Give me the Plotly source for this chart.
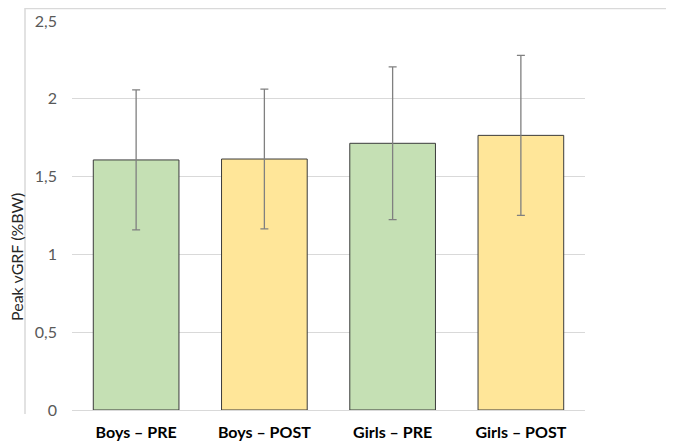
import plotly.graph_objects as go

categories = ["Boys – PRE", "Boys – POST", "Girls – PRE", "Girls – POST"]
values = [1.607, 1.613, 1.714, 1.765]
errors = [0.450, 0.449, 0.491, 0.514]
colors = ["#C5E0B4", "#FFE699", "#C5E0B4", "#FFE699"]
tick_vals = [0, 0.5, 1, 1.5, 2, 2.5]
tick_text = ["0", "0,5", "1", "1,5", "2", "2,5"]

W, H = 674, 441
OFF = 8  # default page body margin shifts the figure by this much
L, T = 72 - OFF, 21 - OFF
R = W - (585 - OFF)
B = H - (410 - OFF)
pw, ph = W - L - R, H - T - B

def px(x):
    return (x - OFF - L) / pw

def py(y):
    return (H - B - (y - OFF)) / ph

FONT = "Lato, Liberation Sans, Arial, sans-serif"

fig = go.Figure(go.Bar(
    x=categories, y=values,
    marker=dict(color=colors, line=dict(color="#3B3B3B", width=1)),
    error_y=dict(type="data", array=errors, visible=True,
                 color="#808080", thickness=1.3, width=4),
))

frame = "#D9D9D9"
fig.update_layout(
    width=W, height=H,
    margin=dict(l=L, r=R, t=T, b=B, pad=0),
    paper_bgcolor="white", plot_bgcolor="white",
    separators=",.",
    bargap=0.332,
    showlegend=False,
    font=dict(family=FONT),
    xaxis=dict(showgrid=False, showline=False, zeroline=False, ticks="",
               automargin=False,
               tickfont=dict(size=16, color="#000000", family=FONT, weight="bold"),
               ticklabelstandoff=11),
    yaxis=dict(range=[0, 2.5], tickvals=tick_vals, ticktext=tick_text,
               automargin=False,
               showgrid=True, gridcolor=frame, gridwidth=1,
               zeroline=True, zerolinecolor=frame, zerolinewidth=1,
               showline=False, ticks="",
               tickfont=dict(size=16, color="#595959", family=FONT),
               ticklabelstandoff=14),
    annotations=[dict(text="Peak vGRF (%BW)", xref="paper", yref="paper",
                      x=px(16), y=py(257), textangle=-90, showarrow=False,
                      xanchor="center", yanchor="middle",
                      font=dict(size=16, color="#262626", family=FONT))],
    shapes=[
        dict(type="line", xref="paper", yref="paper", x0=px(25), x1=px(25),
             y0=py(8), y1=py(414), line=dict(color=frame, width=1.5)),
        dict(type="line", xref="paper", yref="paper", x0=px(672), x1=px(672),
             y0=py(8), y1=py(414), line=dict(color=frame, width=1.5)),
        dict(type="line", xref="paper", yref="paper", x0=px(25), x1=px(672),
             y0=py(8.5), y1=py(8.5), line=dict(color=frame, width=1.5)),
    ],
)

fig.write_html("out.html")
